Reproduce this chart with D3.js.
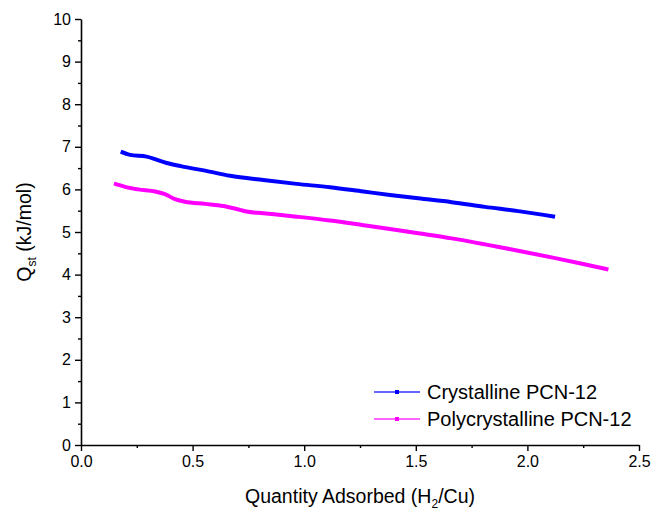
<!DOCTYPE html>
<html>
<head>
<meta charset="utf-8">
<script src="https://cdn.jsdelivr.net/npm/d3@7"></script>
<style>
  html, body { margin: 0; padding: 0; background: #fff; }
  svg { display: block; font-family: "Liberation Sans", Arial, sans-serif; }
</style>
</head>
<body>
<svg id="chart" width="652" height="514"></svg>
<script>
// ---- data ----
const seriesNames = ["Crystalline PCN-12", "Polycrystalline PCN-12"];
const seriesColors = ["#0000FF", "#FF00FF"];
const crystallineX = [0.178, 0.22, 0.294, 0.332, 0.384, 0.451, 0.556, 0.668, 0.817, 0.966, 1.116, 1.265, 1.384, 1.511, 1.661, 1.810, 1.959, 2.124];
const crystallineY = [6.885, 6.81, 6.77, 6.71, 6.62, 6.54, 6.44, 6.32, 6.22, 6.13, 6.05, 5.95, 5.87, 5.79, 5.70, 5.59, 5.49, 5.36];
const polyX = [0.148, 0.197, 0.257, 0.332, 0.376, 0.421, 0.466, 0.556, 0.638, 0.712, 0.742, 0.817, 0.966, 1.116, 1.265, 1.384, 1.511, 1.661, 1.810, 1.959, 2.13, 2.25, 2.363];
const polyY = [6.14, 6.06, 6.00, 5.95, 5.89, 5.77, 5.71, 5.66, 5.61, 5.52, 5.48, 5.44, 5.36, 5.27, 5.16, 5.07, 4.97, 4.85, 4.71, 4.56, 4.38, 4.25, 4.12];
const xTicks = [0.0, 0.5, 1.0, 1.5, 2.0, 2.5];
const yTicks = [0, 1, 2, 3, 4, 5, 6, 7, 8, 9, 10];
const xMinor = [0.25, 0.75, 1.25, 1.75, 2.25];
const yMinor = [0.5, 1.5, 2.5, 3.5, 4.5, 5.5, 6.5, 7.5, 8.5, 9.5];

const svg = d3.select("#chart");
const x = d3.scaleLinear().domain([0, 2.5]).range([81, 639]);
const y = d3.scaleLinear().domain([0, 10]).range([445, 19]);

// axes
const gx = svg.append("g").attr("transform", `translate(0,${y(0)})`)
  .call(d3.axisBottom(x).tickValues(xTicks).tickFormat(d3.format(".1f")).tickSizeInner(6).tickSizeOuter(0).tickPadding(5));
const gxm = svg.append("g").attr("transform", `translate(0,${y(0)})`)
  .call(d3.axisBottom(x).tickValues(xMinor).tickFormat("").tickSizeInner(3).tickSizeOuter(0));
const gy = svg.append("g").attr("transform", `translate(${x(0)},0)`)
  .call(d3.axisLeft(y).tickValues(yTicks).tickFormat(d3.format("d")).tickSizeInner(6).tickSizeOuter(0).tickPadding(4));
const gym = svg.append("g").attr("transform", `translate(${x(0)},0)`)
  .call(d3.axisLeft(y).tickValues(yMinor).tickFormat("").tickSizeInner(3).tickSizeOuter(0));
[gx, gxm, gy, gym].forEach(g => {
  g.selectAll("path.domain").attr("stroke", "#000").attr("stroke-width", 1.6);
  g.selectAll(".tick line").attr("stroke", "#000").attr("stroke-width", 1.4);
  g.selectAll(".tick text").attr("fill", "#000").style("font-size", "16px")
    .style("font-family", "'Liberation Sans', Arial, sans-serif");
});
gxm.select("path.domain").remove();
gym.select("path.domain").remove();

// lines
const seriesData = [
  crystallineX.map((v, i) => [v, crystallineY[i]]),
  polyX.map((v, i) => [v, polyY[i]])
];
const line = d3.line().x(d => x(d[0])).y(d => y(d[1])).curve(d3.curveMonotoneX);
seriesData.forEach((s, i) => {
  svg.append("path").datum(s).attr("d", line)
    .attr("fill", "none").attr("stroke", seriesColors[i]).attr("stroke-width", 4)
    .attr("stroke-linejoin", "round");
});

// axis titles
const xt = svg.append("text").attr("x", (x(0) + x(2.5)) / 2).attr("y", 503)
  .attr("text-anchor", "middle").style("font-size", "19.5px").attr("fill", "#000");
xt.append("tspan").text("Quantity Adsorbed (H");
xt.append("tspan").text("2").style("font-size", "12px").attr("dy", 5);
xt.append("tspan").text("/Cu)").attr("dy", -5);

const yt = svg.append("text")
  .attr("transform", `translate(31,${(y(0) + y(10)) / 2}) rotate(-90)`)
  .attr("text-anchor", "middle").style("font-size", "19.5px").attr("fill", "#000");
yt.append("tspan").text("Q");
yt.append("tspan").text("st").style("font-size", "12px").attr("dy", 5);
yt.append("tspan").text(" (kJ/mol)").attr("dy", -5);

// legend
const legY = [392, 419];
seriesNames.forEach((n, i) => {
  const g = svg.append("g");
  g.append("line").attr("x1", 374).attr("x2", 420).attr("y1", legY[i]).attr("y2", legY[i])
    .attr("stroke", seriesColors[i]).attr("stroke-width", 1.5).attr("opacity", 0.8);
  g.append("rect").attr("x", 395).attr("y", legY[i] - 2).attr("width", 4).attr("height", 4)
    .attr("fill", seriesColors[i]);
  g.append("text").attr("x", 427).attr("y", legY[i] + 7).text(n)
    .style("font-size", "20px").attr("fill", "#000");
});
</script>
</body>
</html>
